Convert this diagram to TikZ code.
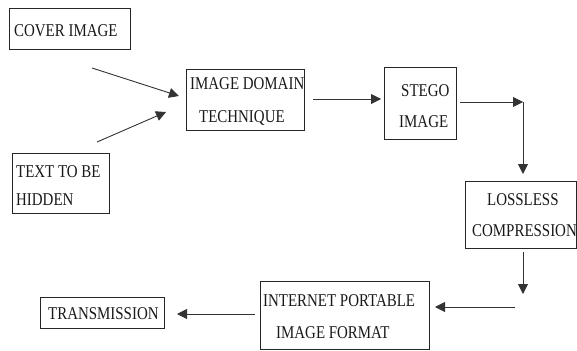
\documentclass[tikz,border=0pt]{standalone}
\usepackage{fontspec}
\setmainfont[FakeStretch=0.83]{Liberation Serif}
\usetikzlibrary{arrows.meta}
\tikzset{
  box/.style={draw=black!85, line width=0.9pt, inner sep=0pt, anchor=north west},
  txt/.style={anchor=base west, inner sep=0pt, text=black!90,
              font=\fontsize{18}{20}\selectfont},
  flow/.style={draw=black!80, line width=0.9pt,
               -{Triangle[length=10pt,width=10pt]}}
}
\newcommand{\boxat}[5]{% name, x1, y1, x2, y2
  \node[box, minimum width={#4pt-#2pt}, minimum height={#5pt-#3pt}] (#1) at (#2,#3) {};}
\begin{document}
\begin{tikzpicture}[x=1pt, y=-1pt]
\useasboundingbox (0,0) rectangle (577,350);
\fill[white] (0,0) rectangle (577,350);

% boxes
\boxat{cover}{9}{8}{130}{49}
\boxat{hidden}{12}{153}{109}{213}
\boxat{domain}{186}{69}{304}{130}
\boxat{stego}{384}{67}{456}{139}
\boxat{lossless}{465}{181}{576}{248}
\boxat{pif}{260}{281}{429}{349}
\boxat{trans}{40}{297}{164}{328}

% labels
\node[txt] (coverA) at (14,37) {COVER IMAGE};
\node[txt] (hiddenA) at (16,177) {TEXT TO BE};
\node[txt] (hiddenB) at (16,205) {HIDDEN};
\node[txt] (domainA) at (190,89) {IMAGE DOMAIN};
\node[txt] (domainB) at (199,122) {TECHNIQUE};
\node[txt] (stegoA) at (401,96) {STEGO};
\node[txt] (stegoB) at (399,127) {IMAGE};
\node[txt] (losslessA) at (487,205) {LOSSLESS};
\node[txt] (losslessB) at (472,236) {COMPRESSION};
\node[txt] (pifA) at (263,306) {INTERNET PORTABLE};
\node[txt] (pifB) at (276,338) {IMAGE FORMAT};
\node[txt] (transA) at (48,319) {TRANSMISSION};

% connector ends
\coordinate (a1s) at (92,68);
\coordinate (a1e) at (179,96);
\coordinate (a2s) at (97,142);
\coordinate (a2e) at (166,112);
\coordinate (a3s) at (313,99);
\coordinate (a3e) at (381,99);
\coordinate (a4s) at (460,102);
\coordinate (bend) at (523,102);
\coordinate (a4e) at (523,174);
\coordinate (a5s) at (523,252);
\coordinate (a5e) at (523,294);
\coordinate (a6s) at (515,307);
\coordinate (a6e) at (435,307);
\coordinate (a7s) at (255,314);
\coordinate (a7e) at (177,314);

% connectors
\draw[flow] (a1s) -- (a1e);
\draw[flow] (a2s) -- (a2e);
\draw[flow] (a3s) -- (a3e);
\draw[flow] (a4s) -- (bend);
\draw[flow] (bend) -- (a4e);
\draw[flow] (a5s) -- (a5e);
\draw[flow] (a6s) -- (a6e);
\draw[flow] (a7s) -- (a7e);
\end{tikzpicture}
\end{document}
